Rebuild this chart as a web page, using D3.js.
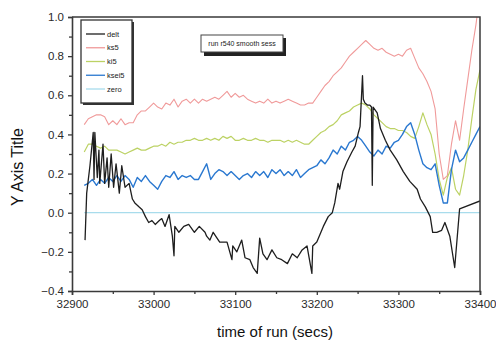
<!DOCTYPE html>
<html>
<head>
<meta charset="utf-8">
<script src="https://cdn.jsdelivr.net/npm/d3@7/dist/d3.min.js"></script>
<style>
  html, body { margin: 0; padding: 0; background: #fff; }
  svg { display: block; font-family: "Liberation Sans", Arial, sans-serif; }
</style>
</head>
<body>
<svg id="chart" width="496" height="342"></svg>
<script>
// Sample times (s) shared by the smoothed series
const gridStart = 32915, gridStep = 5;
const ks5 = [0.45,0.48,0.49,0.50,0.50,0.49,0.45,0.47,0.45,0.48,0.45,0.46,0.46,0.50,0.52,0.52,0.54,0.56,0.54,0.53,
  0.56,0.55,0.58,0.54,0.57,0.58,0.56,0.58,0.56,0.58,0.57,0.58,0.59,0.58,0.60,0.62,0.59,0.61,0.59,0.60,
  0.58,0.57,0.56,0.57,0.56,0.58,0.56,0.57,0.56,0.57,0.58,0.57,0.56,0.55,0.55,0.56,0.56,0.59,0.62,0.65,
  0.67,0.70,0.72,0.74,0.77,0.80,0.82,0.84,0.86,0.88,0.86,0.84,0.83,0.84,0.82,0.81,0.80,0.81,0.80,0.83,
  0.84,0.79,0.74,0.71,0.67,0.62,0.53,0.30,0.17,0.19,0.35,0.47,0.37,0.53,0.68,0.83,0.96,1.12];
const ki5 = [0.31,0.35,0.35,0.34,0.33,0.34,0.32,0.32,0.32,0.31,0.30,0.31,0.32,0.33,0.32,0.32,0.33,0.34,0.34,0.35,
  0.34,0.36,0.35,0.36,0.36,0.37,0.37,0.38,0.37,0.37,0.38,0.37,0.38,0.37,0.39,0.38,0.39,0.37,0.37,0.38,
  0.37,0.37,0.38,0.37,0.37,0.36,0.37,0.37,0.37,0.36,0.37,0.36,0.37,0.36,0.35,0.35,0.37,0.39,0.41,0.42,
  0.44,0.45,0.47,0.50,0.51,0.52,0.54,0.55,0.56,0.55,0.53,0.50,0.48,0.46,0.44,0.43,0.43,0.42,0.42,0.41,
  0.39,0.38,0.44,0.51,0.45,0.40,0.30,0.17,0.09,0.18,0.23,0.12,0.09,0.19,0.32,0.48,0.63,0.73];
const ksei5 = [0.14,0.15,0.17,0.14,0.17,0.15,0.18,0.16,0.19,0.16,0.19,0.17,0.13,0.18,0.16,0.19,0.16,0.14,0.12,0.16,
  0.19,0.18,0.21,0.17,0.19,0.18,0.19,0.17,0.17,0.21,0.25,0.17,0.20,0.22,0.21,0.19,0.21,0.19,0.17,0.19,
  0.20,0.18,0.21,0.19,0.21,0.18,0.22,0.20,0.22,0.19,0.21,0.19,0.22,0.18,0.20,0.22,0.23,0.24,0.27,0.25,
  0.28,0.32,0.30,0.34,0.32,0.36,0.37,0.39,0.37,0.34,0.31,0.29,0.32,0.30,0.34,0.33,0.36,0.37,0.40,0.44,
  0.46,0.40,0.32,0.25,0.23,0.22,0.25,0.14,0.05,0.05,0.22,0.32,0.26,0.28,0.32,0.36,0.40,0.44];

// Raw difference signal, sampled irregularly
const deltTime = [32916,32918,32922,32926,32927,32928,32931,32933,32934,32938,32940,32943,32945,32948,32951,32954,
  32958,32961,32965,32970,32974,32977,32982,32986,32990,32994,32998,33002,33007,33010,33014,33019,33023,33025,
  33026,33031,33037,33043,33050,33056,33063,33065,33069,33073,33081,33090,33096,33097,33102,33108,33112,33118,
  33122,33127,33130,33134,33139,33145,33151,33157,33164,33170,33176,33182,33188,33194,33195,33200,33208,33214,
  33219,33222,33226,33228,33232,33237,33243,33247,33251,33253,33256,33257,33259,33262,33265,33267,33268,33269,
  33274,33278,33284,33290,33298,33306,33314,33323,33327,33333,33339,33342,33347,33353,33357,33363,33369,33375,33400];
const deltValue = [-0.14,0.10,0.24,0.41,0.17,0.41,0.18,0.32,0.15,0.35,0.15,0.28,0.13,0.30,0.13,0.25,
  0.10,0.24,0.13,0.15,0.07,0.05,0.03,0.015,-0.02,-0.05,-0.04,-0.06,-0.04,-0.03,-0.07,-0.01,-0.12,-0.22,
  -0.07,-0.10,-0.07,-0.06,-0.10,-0.07,-0.10,-0.12,-0.14,-0.10,-0.15,-0.15,-0.24,-0.17,-0.20,-0.14,-0.23,-0.24,
  -0.28,-0.31,-0.13,-0.21,-0.24,-0.19,-0.23,-0.24,-0.26,-0.21,-0.23,-0.19,-0.17,-0.31,-0.17,-0.15,-0.07,-0.02,
  0.00,0.05,0.15,0.12,0.21,0.26,0.31,0.34,0.41,0.44,0.70,0.58,0.56,0.55,0.55,0.54,0.14,0.54,
  0.51,0.43,0.37,0.32,0.27,0.21,0.16,0.12,0.07,0.03,-0.02,-0.10,-0.10,-0.09,-0.05,-0.12,-0.28,0.02,0.06];

const zeroRange = [32915, 33400];
const xTicks = [32900, 33000, 33100, 33200, 33300, 33400];
const yTicks = [-0.4, -0.2, 0.0, 0.2, 0.4, 0.6, 0.8, 1.0];
const seriesNames = ["delt", "ks5", "ki5", "ksei5", "zero"];
const seriesColors = ["#1e1e1e", "#f09a9a", "#bcd264", "#2a78d0", "#a8dcec"];
const titleText = "run r540 smooth sess";

const svg = d3.select("#chart");
const L = 72, R = 480, T = 17, B = 291;
const x = d3.scaleLinear().domain([32900, 33400]).range([L, R]);
const y = d3.scaleLinear().domain([-0.4, 1.0]).range([B, T]);

svg.append("defs").append("clipPath").attr("id", "plotClip")
  .append("rect").attr("x", L).attr("y", T).attr("width", R - L).attr("height", B - T);

const plot = svg.append("g").attr("clip-path", "url(#plotClip)");
const line = d3.line().x(d => x(d[0])).y(d => y(d[1]));
const grid = arr => arr.map((v, i) => [gridStart + i * gridStep, v]);

const series = [
  { pts: zeroRange.map(t => [t, 0]), color: seriesColors[4], w: 1.3 },
  { pts: grid(ks5), color: seriesColors[1], w: 1.1 },
  { pts: grid(ki5), color: seriesColors[2], w: 1.2 },
  { pts: grid(ksei5), color: seriesColors[3], w: 1.4 },
  { pts: deltTime.map((t, i) => [t, deltValue[i]]), color: seriesColors[0], w: 1.3 }
];
series.forEach(s => {
  plot.append("path").attr("d", line(s.pts)).attr("fill", "none")
    .attr("stroke", s.color).attr("stroke-width", s.w).attr("stroke-linejoin", "round");
});

// Frame: top and right edges
svg.append("path").attr("d", `M${L},${T}H${R}V${B}`).attr("fill", "none")
  .attr("stroke", "#3a3a3a").attr("stroke-width", 1.5);

// Axes with minor ticks
const xAxis = svg.append("g").attr("transform", `translate(0,${B})`)
  .call(d3.axisBottom(x).tickValues(xTicks).tickFormat(d3.format("d")).tickSize(4).tickPadding(5));
svg.append("g").attr("transform", `translate(0,${B})`)
  .call(d3.axisBottom(x).tickValues(d3.range(32950, 33400, 100)).tickFormat("").tickSize(3))
  .select(".domain").remove();
const yAxis = svg.append("g").attr("transform", `translate(${L},0)`)
  .call(d3.axisLeft(y).tickValues(yTicks).tickFormat(d3.format(".1f")).tickSize(4).tickPadding(4));
svg.append("g").attr("transform", `translate(${L},0)`)
  .call(d3.axisLeft(y).tickValues(d3.range(-0.3, 1.0, 0.2)).tickFormat("").tickSize(3))
  .select(".domain").remove();
svg.selectAll(".domain").attr("stroke", "#3a3a3a").attr("stroke-width", 1.6);
svg.selectAll(".tick line").attr("stroke", "#3a3a3a").attr("stroke-width", 1.3);
svg.selectAll(".tick text").attr("font-size", 11.5).attr("fill", "#2a2a2a")
  .attr("font-family", "'Liberation Sans', Arial, sans-serif");

// Axis titles
svg.append("text").attr("x", 275).attr("y", 337).attr("text-anchor", "middle")
  .attr("font-size", 15).attr("fill", "#111").text("time of run (secs)");
svg.append("text").attr("transform", "translate(23,167) rotate(-90)").attr("text-anchor", "middle")
  .attr("font-size", 16).attr("fill", "#111").text("Y Axis Title");

// Legend
const lg = svg.append("g");
lg.append("rect").attr("x", 83).attr("y", 22).attr("width", 51).attr("height", 83).attr("fill", "#333");
lg.append("rect").attr("x", 81).attr("y", 20).attr("width", 51).attr("height", 83)
  .attr("fill", "#fff").attr("stroke", "#333").attr("stroke-width", 1.3);
const rowY = d3.scaleLinear().domain([0, 4]).range([34, 89]);
seriesNames.forEach((n, i) => {
  lg.append("line").attr("x1", 86).attr("x2", 105).attr("y1", rowY(i)).attr("y2", rowY(i))
    .attr("stroke", seriesColors[i]).attr("stroke-width", 1.3);
  lg.append("text").attr("x", 107).attr("y", rowY(i) + 2.5).attr("font-size", 7.5)
    .attr("fill", "#222").text(n);
});

// Run label box
const tb = svg.append("g");
tb.append("rect").attr("x", 204).attr("y", 38).attr("width", 82).attr("height", 18).attr("fill", "#222");
tb.append("rect").attr("x", 201).attr("y", 35).attr("width", 82).attr("height", 17)
  .attr("fill", "#fff").attr("stroke", "#444").attr("stroke-width", 1);
tb.append("text").attr("x", 242).attr("y", 46).attr("text-anchor", "middle")
  .attr("font-size", 7).attr("fill", "#222").text(titleText);
</script>
</body>
</html>
